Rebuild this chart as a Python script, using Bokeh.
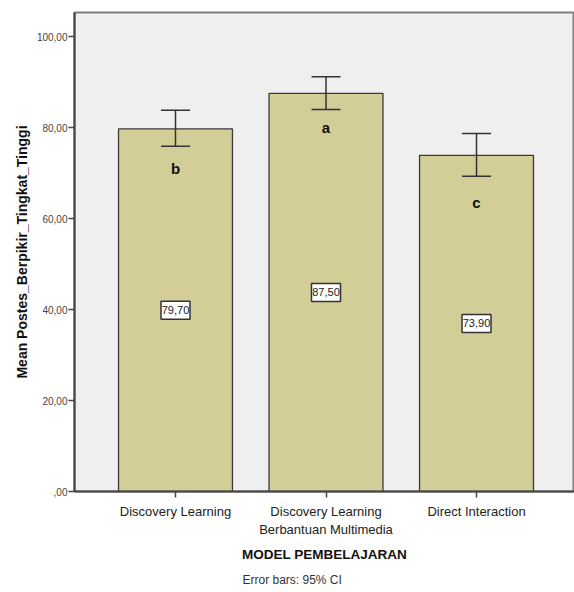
from bokeh.plotting import figure
from bokeh.models import Range1d, FixedTicker, ColumnDataSource, Whisker, TeeHead, Title
from bokeh.core.properties import value
from bokeh.embed import file_html
from bokeh.resources import INLINE

categories = ["Discovery Learning", "Discovery Learning\nBerbantuan Multimedia", "Direct Interaction"]
means = [79.70, 87.50, 73.90]
ci_lower = [75.9, 84.0, 69.3]
ci_upper = [83.8, 91.2, 78.7]
letters = ["b", "a", "c"]
letter_y = [71.0, 80.0, 63.6]
mean_labels = ["79,70", "87,50", "73,90"]
y_ticks = [0, 20, 40, 60, 80, 100]
y_tick_labels = [",00", "20,00", "40,00", "60,00", "80,00", "100,00"]

FONT = "Liberation Sans"
xs = [i + 1 for i in range(len(categories))]

src = ColumnDataSource(dict(
    x=xs, top=means, lower=ci_lower, upper=ci_upper, letter=letters, ly=letter_y,
    mid=[m / 2 for m in means], mlabel=mean_labels,
))

p = figure(width=574, height=592, output_backend="svg", toolbar_location=None,
           x_range=Range1d(0.329, 3.651), y_range=Range1d(0, 105.3),
           min_border_left=74, min_border_right=0, min_border_top=12, min_border_bottom=100)

p.background_fill_color = "#EFEFEF"
p.border_fill_color = "white"
p.outline_line_color = "#808080"
p.outline_line_width = 2
p.xgrid.visible = False
p.ygrid.visible = False

p.vbar(x="x", top="top", width=0.757, bottom=0, source=src,
       fill_color="#D3CE98", line_color="#3A3A3A", line_width=1.3)

wh = Whisker(source=src, base="x", lower="lower", upper="upper", level="overlay",
             line_color="#333333", line_width=1.5,
             upper_head=TeeHead(size=29, line_color="#333333", line_width=1.5),
             lower_head=TeeHead(size=29, line_color="#333333", line_width=1.5))
p.add_layout(wh)

p.text(x="x", y="ly", text="letter", source=src,
       text_align="center", text_baseline="middle",
       text_font=value(FONT), text_font_size="15px", text_font_style="bold",
       text_color="#111111")

p.rect(x="x", y="mid", width=29, height=18, width_units="screen", height_units="screen",
       source=src, fill_color="white", line_color="#333333", line_width=1.5)
p.text(x="x", y="mid", text="mlabel", source=src,
       text_align="center", text_baseline="middle",
       text_font=value(FONT), text_font_size="11px", text_color="#222222")

# y axis
p.yaxis.ticker = FixedTicker(ticks=y_ticks)
p.yaxis.major_label_overrides = {t: l for t, l in zip(y_ticks, y_tick_labels)}
p.yaxis.minor_tick_line_color = None
p.yaxis.major_tick_out = 6
p.yaxis.major_tick_in = 0
p.yaxis.axis_line_color = "#444444"
p.yaxis.axis_line_width = 2
p.yaxis.major_tick_line_color = "#444444"
p.yaxis.major_tick_line_width = 1.5
p.yaxis.major_label_text_font = FONT
p.yaxis.major_label_text_font_size = "10px"
p.yaxis.major_label_text_color = "#444444"
p.yaxis.major_label_standoff = 1
p.yaxis.axis_label = "Mean Postes_Berpikir_Tingkat_Tinggi"
p.yaxis.axis_label_text_font = FONT
p.yaxis.axis_label_text_font_size = "14px"
p.yaxis.axis_label_text_font_style = "bold"
p.yaxis.axis_label_text_color = "#111111"
p.yaxis.axis_label_standoff = 4

# x axis
p.xaxis.ticker = FixedTicker(ticks=xs)
p.xaxis.major_label_overrides = {x: c for x, c in zip(xs, categories)}
p.xaxis.minor_tick_line_color = None
p.xaxis.major_tick_out = 6
p.xaxis.major_tick_in = 0
p.xaxis.axis_line_color = "#444444"
p.xaxis.axis_line_width = 2
p.xaxis.major_tick_line_color = "#444444"
p.xaxis.major_tick_line_width = 1.5
p.xaxis.major_label_text_font = FONT
p.xaxis.major_label_text_font_size = "13px"
p.xaxis.major_label_text_color = "#222222"
p.xaxis.major_label_standoff = 6
p.xaxis.axis_label = "MODEL PEMBELAJARAN"
p.xaxis.axis_label_text_font = FONT
p.xaxis.axis_label_text_font_size = "13.5px"
p.xaxis.axis_label_text_font_style = "bold"
p.xaxis.axis_label_text_color = "#111111"
p.xaxis.axis_label_standoff = 7

p.add_layout(Title(text="Error bars: 95% CI", align="left", offset=168, text_font=FONT,
                   text_font_size="12px", text_font_style="normal",
                   text_color="#333333", standoff=12), "below")

open("out.html", "w").write(file_html(p, INLINE))
